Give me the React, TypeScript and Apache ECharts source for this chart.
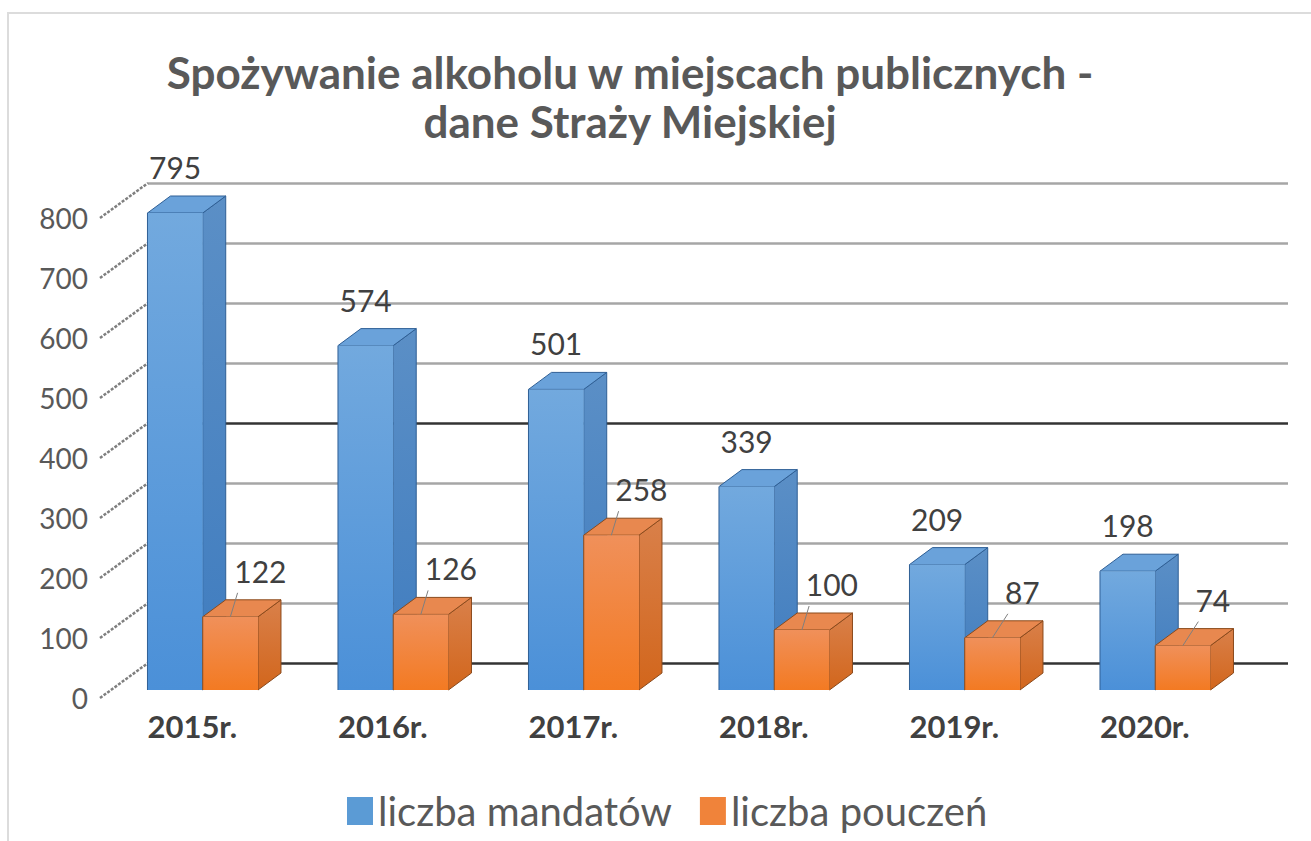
import React, { useEffect, useRef } from "react";
import * as echarts from "echarts";

const categories = ["2015r.", "2016r.", "2017r.", "2018r.", "2019r.", "2020r."];
const mandaty = [795, 574, 501, 339, 209, 198];
const pouczenia = [122, 126, 258, 100, 87, 74];
const yTicks = [0, 100, 200, 300, 400, 500, 600, 700, 800];
const seriesNames = ["liczba mandatów", "liczba pouczeń"];
const titleText = "Spożywanie alkoholu w miejscach publicznych -\ndane Straży Miejskiej";

const FONT = "Lato, 'Open Sans', sans-serif";
const DX = 23;
const DY = -17;

const palette = {
  blue: {
    front: ["#72a9de", "#4b90d8"],
    side: ["#5b8fc6", "#3f7cbf"],
    top: "#6aa2da",
    edge: "#2f5f95",
  },
  orange: {
    front: ["#f0905a", "#f37a22"],
    side: ["#d9804a", "#d2661c"],
    top: "#e8884f",
    edge: "#8a4a1c",
  },
};

function vGrad(c: string[]) {
  return new echarts.graphic.LinearGradient(0, 0, 0, 1, [
    { offset: 0, color: c[0] },
    { offset: 1, color: c[1] },
  ]);
}

function makeRender(kind: "blue" | "orange") {
  const pal = palette[kind];
  return (params: any, api: any) => {
    const idx = api.value(0);
    const val = api.value(1);
    const base = api.coord([idx, 0]);
    const top = api.coord([idx, val]);
    const bw = api.size([1, 0])[0];
    const cx = base[0];
    const w = 0.29 * bw;
    const x0 = kind === "blue" ? cx - 0.235 * bw : cx - 0.235 * bw + w;
    const x1 = x0 + w;
    const yb = base[1];
    const yt = top[1];
    const fcx = (x0 + x1) / 2;
    const children: any[] = [
      {
        type: "polygon",
        shape: { points: [[x1, yb], [x1, yt], [x1 + DX, yt + DY], [x1 + DX, yb + DY]] },
        style: { fill: vGrad(pal.side), stroke: pal.edge, lineWidth: 1 },
      },
      {
        type: "polygon",
        shape: { points: [[x0, yt], [x0 + DX, yt + DY], [x1 + DX, yt + DY], [x1, yt]] },
        style: { fill: pal.top, stroke: pal.edge, lineWidth: 1 },
      },
      {
        type: "rect",
        shape: { x: x0, y: yt, width: w, height: yb - yt },
        style: { fill: vGrad(pal.front) },
      },
      {
        type: "line",
        shape: { x1: x0, y1: yt, x2: x0, y2: yb },
        style: { stroke: pal.edge, lineWidth: 1 },
      },
    ];
    const lx = kind === "blue" ? fcx : fcx + 30;
    const ly = yt - 46;
    const txt = String(val);
    children.push({
      type: "text",
      style: {
        text: txt,
        x: lx,
        y: ly,
        align: "center",
        verticalAlign: "middle",
        fontSize: 30,
        fontFamily: FONT,
        fill: "#404040",
      },
    });
    if (kind === "orange") {
      const tw = txt.length * 16.5;
      children.push({
        type: "line",
        shape: { x1: lx - tw / 2 + 2, y1: yt - 24, x2: fcx, y2: yt },
        style: { stroke: "#7f7f7f", lineWidth: 1 },
      });
    }
    return { type: "group", children };
  };
}

function renderTick(params: any, api: any) {
  const p = api.coord([0, api.value(1)]);
  return {
    type: "line",
    shape: { x1: p[0], y1: p[1], x2: p[0] + 48, y2: p[1] - 35 },
    style: { stroke: "#7f7f7f", lineWidth: 2.5, lineDash: [3, 1.5] },
  };
}

const gridLineColors = [
  "#333333", "#a6a6a6", "#a6a6a6", "#a6a6a6",
  "#333333", "#a6a6a6", "#a6a6a6", "#a6a6a6", "#a6a6a6",
];

export default function App() {
  const ref = useRef<HTMLDivElement>(null);
  useEffect(() => {
    if (!ref.current) return;
    const chart = echarts.init(ref.current, null, { renderer: "svg" });
    chart.setOption({
      animation: false,
      backgroundColor: "#ffffff",
      title: {
        text: titleText,
        left: 625,
        top: 42,
        textAlign: "center",
        textStyle: {
          fontFamily: FONT,
          fontWeight: "bold",
          fontSize: 44,
          lineHeight: 49,
          color: "#595959",
        },
      },
      legend: {
        data: seriesNames,
        left: 342,
        top: 786,
        icon: "rect",
        itemWidth: 26,
        itemHeight: 28,
        itemGap: 28,
        textStyle: { fontFamily: FONT, fontSize: 40, color: "#595959", padding: [0, 0, 0, 0] },
      },
      graphic: [
        {
          type: "rect",
          z: -10,
          shape: { x: 8, y: 13, width: 1400, height: 900 },
          style: { fill: "none", stroke: "#dcdcdc", lineWidth: 2 },
        },
      ],
      grid: [
        { left: 97, right: 71, top: 210, bottom: 151 },
        { left: 148, right: 23, top: 183, bottom: 178 },
        { left: 100, right: 71, top: 218, bottom: 143 },
      ],
      xAxis: [
        {
          type: "category",
          gridIndex: 0,
          data: categories,
          axisLine: { show: false },
          axisTick: { show: false },
          axisLabel: {
            margin: 20,
            fontFamily: FONT,
            fontWeight: "bold",
            fontSize: 31,
            color: "#404040",
          },
        },
        { type: "value", gridIndex: 1, min: 0, max: 1, show: false },
        { type: "value", gridIndex: 2, min: 0, max: 1, show: false },
      ],
      yAxis: [
        { type: "value", gridIndex: 0, min: 0, max: 800, interval: 100, show: false },
        {
          type: "value",
          gridIndex: 1,
          min: 0,
          max: 800,
          interval: 100,
          axisLine: { show: false },
          axisTick: { show: false },
          axisLabel: { show: false },
          splitLine: { show: true, lineStyle: { color: gridLineColors, width: 2.5 } },
        },
        {
          type: "value",
          gridIndex: 2,
          min: 0,
          max: 800,
          interval: 100,
          axisLine: { show: false },
          axisTick: { show: false },
          splitLine: { show: false },
          axisLabel: {
            margin: 12,
            fontFamily: FONT,
            fontSize: 28,
            color: "#595959",
          },
        },
      ],
      series: [
        {
          name: "ticks",
          type: "custom",
          xAxisIndex: 2,
          yAxisIndex: 2,
          data: yTicks.map((v) => [0, v]),
          renderItem: renderTick,
          silent: true,
          z: 1,
        },
        {
          name: seriesNames[0],
          type: "custom",
          xAxisIndex: 0,
          yAxisIndex: 0,
          itemStyle: { color: "#5b9bd5" },
          data: mandaty.map((v, i) => [i, v]),
          encode: { x: 0, y: 1 },
          renderItem: makeRender("blue"),
          z: 2,
        },
        {
          name: seriesNames[1],
          type: "custom",
          xAxisIndex: 0,
          yAxisIndex: 0,
          itemStyle: { color: "#f0833a" },
          data: pouczenia.map((v, i) => [i, v]),
          encode: { x: 0, y: 1 },
          renderItem: makeRender("orange"),
          z: 3,
        },
      ],
    });
    return () => chart.dispose();
  }, []);
  return (
    <div
      ref={ref}
      style={{ position: "fixed", left: 0, top: 0, width: 1311, height: 841 }}
    />
  );
}
